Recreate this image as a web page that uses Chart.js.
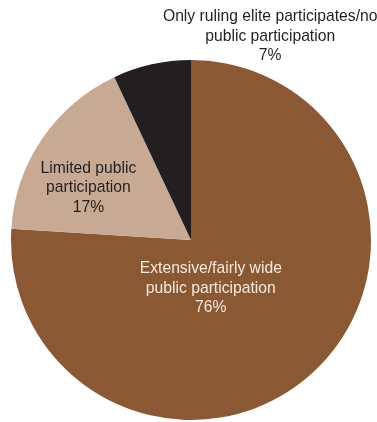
<!DOCTYPE html>
<html>
<head>
<meta charset="utf-8">
<script src="https://cdn.jsdelivr.net/npm/chart.js@4"></script>
<style>
  html, body { margin: 0; padding: 0; background: #fff; }
  #wrap { width: 377px; height: 422px; }
</style>
</head>
<body>
<div id="wrap"><canvas id="pieChart"></canvas></div>
<script>
const categories = [
  "Extensive/fairly wide public participation",
  "Limited public participation",
  "Only ruling elite participates/no public participation"
];
const shares = [76, 17, 7];
const sliceColors = ["#8b5834", "#c8aa94", "#231f20"];

// label lines per slice, with where they sit relative to the pie centre (in radii)
const labelLines = [
  ["Extensive/fairly wide", "public participation"],
  ["Limited public", "participation"],
  ["Only ruling elite participates/no", "public participation"]
];
const labelColors = ["#f3e9df", "#231f20", "#231f20"];
const labelOffsets = [[0.11, 0.27], [-0.57, -0.29], [0.44, -1.13]];

const sliceLabels = {
  id: "sliceLabels",
  afterDatasetsDraw(chart) {
    const { ctx } = chart;
    const arcs = chart.getDatasetMeta(0).data;
    ctx.save();
    ctx.font = '15.7px "Liberation Sans", Arial, sans-serif';
    ctx.textAlign = "center";
    ctx.textBaseline = "middle";
    arcs.forEach((arc, i) => {
      const r = arc.outerRadius;
      const cx = arc.x + labelOffsets[i][0] * r;
      const cy = arc.y + labelOffsets[i][1] * r;
      const lines = labelLines[i].concat([shares[i] + "%"]);
      const lh = 19.5;
      ctx.fillStyle = labelColors[i];
      lines.forEach((line, j) => {
        ctx.fillText(line, cx, cy + (j - (lines.length - 1) / 2) * lh);
      });
    });
    ctx.restore();
  }
};

new Chart(document.getElementById("pieChart"), {
  type: "pie",
  data: {
    labels: categories,
    datasets: [{
      data: shares,
      backgroundColor: sliceColors,
      borderWidth: 0
    }]
  },
  options: {
    responsive: true,
    maintainAspectRatio: false,
    animation: false,
    layout: { padding: { top: 60, bottom: 2, left: 11, right: 6 } },
    plugins: {
      legend: { display: false },
      tooltip: { enabled: false }
    }
  },
  plugins: [sliceLabels]
});
</script>
</body>
</html>
